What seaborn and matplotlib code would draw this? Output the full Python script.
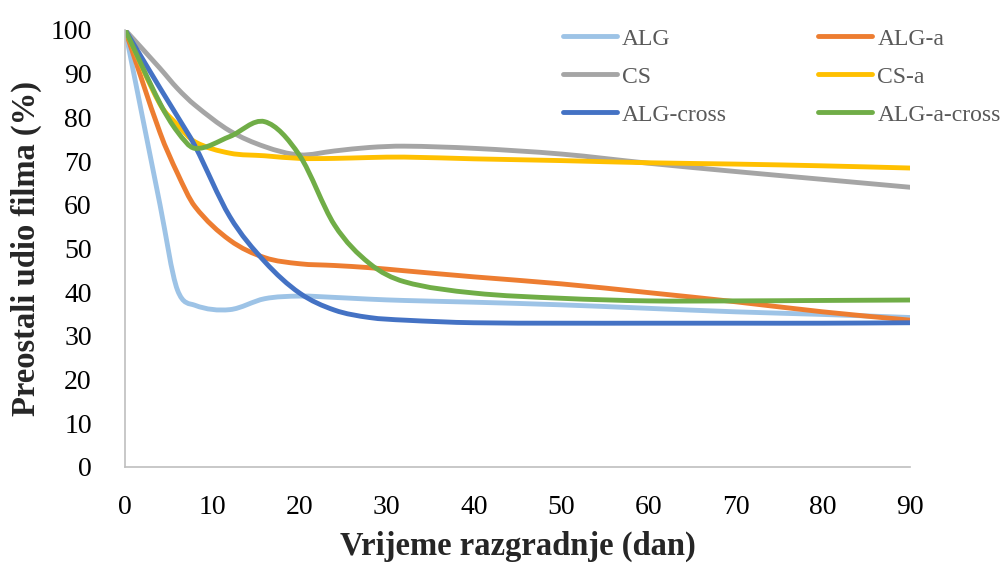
import numpy as np
import pandas as pd
import matplotlib
matplotlib.use("Agg")
import matplotlib.pyplot as plt
from matplotlib.path import Path
from matplotlib.patches import PathPatch
from matplotlib.lines import Line2D
import seaborn as sns

# dani razgradnje i preostali udio filma (%) - očitano s grafa
dani = [0, 4, 6, 8, 12, 16, 20, 24, 28, 32, 40, 50, 60, 70, 80, 90]
alg = [100, 60.0, 40.5, 37.0, 36.0, 38.5, 39.1, 38.8, 38.4, 38.1, 37.7, 37.1, 36.3, 35.5, 34.9, 34.2]
alg_a = [100, 76.5, 67.2, 59.6, 51.9, 47.9, 46.5, 46.1, 45.6, 44.9, 43.5, 41.9, 39.9, 37.8, 35.5, 33.6]
cs = [100, 91.2, 86.6, 82.8, 76.9, 73.3, 71.4, 72.3, 73.1, 73.4, 72.9, 71.6, 69.5, 67.6, 65.8, 64.0]
cs_a = [100, 83.0, 78.3, 74.4, 71.8, 71.2, 70.6, 70.6, 70.8, 70.9, 70.5, 70.1, 69.6, 69.3, 68.9, 68.4]
alg_cross = [100, 86.7, 80.2, 73.5, 57.3, 47.0, 39.8, 35.9, 34.2, 33.6, 33.0, 32.9, 32.9, 32.9, 32.9, 33.0]
alg_a_cross = [100, 83.2, 76.7, 72.9, 75.6, 79.0, 71.3, 55.4, 46.6, 42.4, 39.8, 38.6, 38.0, 38.0, 38.1, 38.2]

nazivi = ["ALG", "ALG-a", "CS", "CS-a", "ALG-cross", "ALG-a-cross"]
boje = ["#9DC3E6", "#ED7D31", "#A5A5A5", "#FFC000", "#4472C4", "#70AD47"]
serije = [alg, alg_a, cs, cs_a, alg_cross, alg_a_cross]

df = pd.concat([pd.DataFrame({"dan": dani, "udio": s, "uzorak": n})
                for n, s in zip(nazivi, serije)], ignore_index=True)

sns.set_theme(style="white")
plt.rcParams["font.family"] = ["Liberation Serif", "DejaVu Serif"]


def glatka_putanja(x, y):
    # zaglađena linija (kubni Hermite, Catmull-Rom nagibi s ograničenjem)
    x = np.asarray(x, float)
    y = np.asarray(y, float)
    d = np.diff(y) / np.diff(x)
    m = np.empty(len(x))
    m[0], m[-1] = d[0], d[-1]
    m[1:-1] = (y[2:] - y[:-2]) / (x[2:] - x[:-2])
    for i in range(1, len(x) - 1):
        if d[i - 1] * d[i] > 0:
            lim = 3 * min(abs(d[i - 1]), abs(d[i]))
            m[i] = np.sign(m[i]) * min(abs(m[i]), lim)
    verts = [(x[0], y[0])]
    codes = [Path.MOVETO]
    for i in range(len(x) - 1):
        h = x[i + 1] - x[i]
        verts += [(x[i] + h / 3, y[i] + m[i] * h / 3),
                  (x[i + 1] - h / 3, y[i + 1] - m[i + 1] * h / 3),
                  (x[i + 1], y[i + 1])]
        codes += [Path.CURVE4] * 3
    return Path(verts, codes)


fig, ax = plt.subplots(figsize=(10.01, 5.64), dpi=100)
fig.subplots_adjust(left=0.125, right=0.909, bottom=0.172, top=0.947)

sns.lineplot(data=df, x="dan", y="udio", hue="uzorak", hue_order=nazivi,
             palette=boje, linewidth=3.5, legend=False, ax=ax)

# seaborn linije zamijeni glatkim krivuljama iste boje
for line in list(ax.lines):
    xd, yd = line.get_data()
    ax.add_patch(PathPatch(glatka_putanja(xd, yd), facecolor="none",
                           edgecolor=line.get_color(), lw=3.5,
                           capstyle="round", joinstyle="round"))
    line.remove()

ax.set_xlim(0, 90)
ax.set_ylim(0, 100)
ax.set_xticks(range(0, 91, 10))
ax.set_yticks(range(0, 101, 10))
ax.tick_params(axis="x", labelsize=20, pad=20, length=0, colors="black")
ax.tick_params(axis="y", labelsize=20, pad=24, length=0, colors="black")
for s in ["top", "right"]:
    ax.spines[s].set_visible(False)
for s in ["left", "bottom"]:
    ax.spines[s].set_color("#BFBFBF")
    ax.spines[s].set_linewidth(1.2)

ax.set_xlabel("Vrijeme razgradnje (dan)", fontsize=23.5, fontweight="bold", labelpad=8)
ax.set_ylabel("Preostali udio filma (%)", fontsize=23.5, fontweight="bold", labelpad=6)

# legenda po redovima: ALG, ALG-a / CS, CS-a / ALG-cross, ALG-a-cross
red = [0, 2, 4, 1, 3, 5]
handles = [Line2D([], [], color=boje[i], lw=3.5, solid_capstyle="round") for i in red]
leg = ax.legend(handles, [nazivi[i] for i in red], ncol=2, loc="upper left",
                bbox_to_anchor=(563 / 1001, 1 - 28 / 564),
                bbox_transform=fig.transFigure, frameon=False,
                fontsize=17, handlelength=2.3, handletextpad=0.21,
                columnspacing=3.85, labelspacing=0.7, borderpad=0,
                borderaxespad=0)
for t in leg.get_texts():
    t.set_color("#595959")

fig.savefig("out.png", dpi=100)
